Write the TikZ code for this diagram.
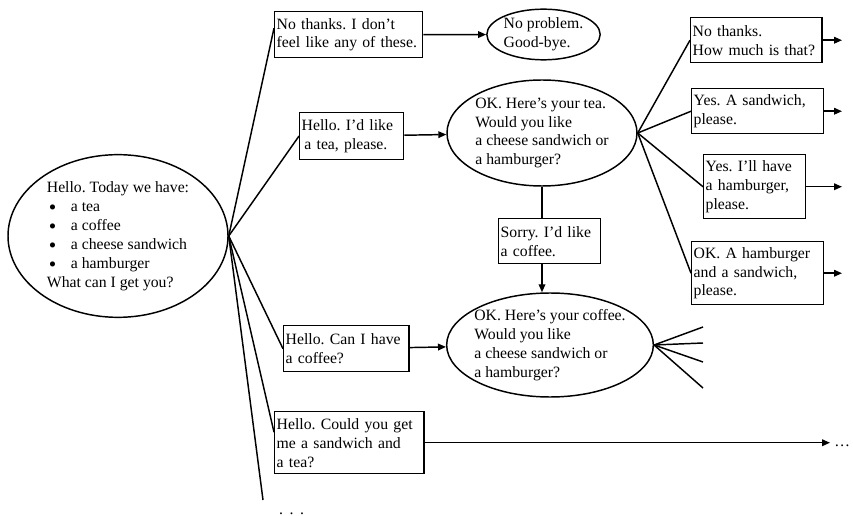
\documentclass[tikz,border=0pt]{standalone}
\usepackage{fontspec}
\setmainfont{Liberation Serif}
\usetikzlibrary{shapes.geometric,arrows.meta}
\newcommand{\menuitem}[1]{\hspace*{1.5pt}\makebox[16.5pt][l]{\smash{\raisebox{-2.2pt}{\fontsize{16}{14}\selectfont\textbullet}}}#1}

\begin{document}
\begin{tikzpicture}[
  x=0.75pt, y=-0.75pt,
  font=\fontsize{11.8}{14.2}\selectfont\frenchspacing,
  reply/.style={draw, line width=1.1pt, rectangle, anchor=north west, align=left, inner xsep=1.5pt, inner ysep=1pt},
  offer/.style={draw, line width=1.1pt, ellipse, align=left, inner sep=-6pt},
  link/.style={line width=1.1pt},
  arr/.style={-{Triangle[length=6pt,width=5pt]}, line width=1.1pt}]
\useasboundingbox (0,0) rectangle (853,516);

% opening offer
\node[offer, minimum width=165pt, minimum height=122pt] (main) at (118,236)
  {Hello. Today we have:\\ \menuitem{a tea}\\ \menuitem{a coffee}\\ \menuitem{a cheese sandwich}\\ \menuitem{a hamburger}\\ What can I get you?};

% first replies
\node[reply, text width=108pt, minimum height=34.5pt] (nothx) at (274,11) {No thanks. I don’t\\feel like any of these.};
\node[reply, text width=75pt, minimum height=35pt] (teabox) at (299,112) {Hello. I’d like\\\hspace*{2pt}a tea, please.};
\node[reply, text width=91pt, minimum height=34.5pt] (coffeebox) at (283,325) {Hello. Can I have\\a coffee?};
\node[reply, text width=109pt, minimum height=46.5pt] (sandtea) at (274,411) {Hello. Could you get\\me a sandwich and\\a tea?};
\coordinate (rest) at (263,500);
\node[anchor=base] (etc) at (291.5,514) {.\,\ .\,\ .};
\foreach \t in {nothx.175, teabox.west, coffeebox.west, sandtea.172, rest}
  \draw[link] (main.east) -- (\t);

% answers of the shop
\node[offer, minimum width=85pt, minimum height=38pt] (bye) at (543.5,34.5) {No problem.\\Good-bye.};
\node[offer, minimum width=142.5pt, minimum height=79.5pt] (tea) at (542,133) {OK. Here’s your tea.\\Would you like\\a cheese sandwich or\\a hamburger?};
\node[offer, minimum width=155pt, minimum height=78pt] (coffee) at (550,345) {OK. Here’s your coffee.\\Would you like\\a cheese sandwich or\\a hamburger?};
\draw[arr] (nothx) -- (bye);
\draw[arr] (teabox) -- (tea);
\draw[arr] (coffeebox) -- (coffee);

% change of mind
\node[reply, text width=73.5pt, minimum height=33.75pt] (sorry) at (498,218) {Sorry. I’d like\\a coffee.};
\draw[link] (tea.south) -- (tea.south |- sorry.north);
\draw[arr] (tea.south |- sorry.south) -- (tea.south |- coffee.north);

% second replies
\coordinate (rim) at (842,0);
\node[reply, text width=95.5pt, minimum height=33.75pt] (howmuch) at (690,17) {No thanks.\\How much is that?};
\node[reply, text width=96pt, minimum height=33.75pt] (sandw) at (691,88) {Yes. A sandwich,\\please.};
\node[reply, text width=73.5pt, minimum height=48pt] (burger) at (703,154) {Yes. I’ll have\\a hamburger,\\please.};
\node[reply, text width=96pt, minimum height=47.25pt] (combo) at (691,241) {OK. A hamburger\\and a sandwich,\\please.};
\foreach \t in {howmuch, sandw, burger, combo} {
  \draw[link] (tea.east) -- (\t.west);
  \draw[arr] (\t.east) -- (\t.east -| rim);
}

% open ends
\foreach \y [count=\i] in {327,343,362,388}
  \coordinate (open\i) at (703,\y);
\foreach \i in {1,...,4}
  \draw[link] (coffee.east) -- (open\i);
\node[anchor=west, inner xsep=3pt, inner ysep=0pt] (more) at (830,446) {\ldots};
\draw[arr] (sandtea.east) -- (sandtea.east -| more.west);
\end{tikzpicture}
\end{document}
